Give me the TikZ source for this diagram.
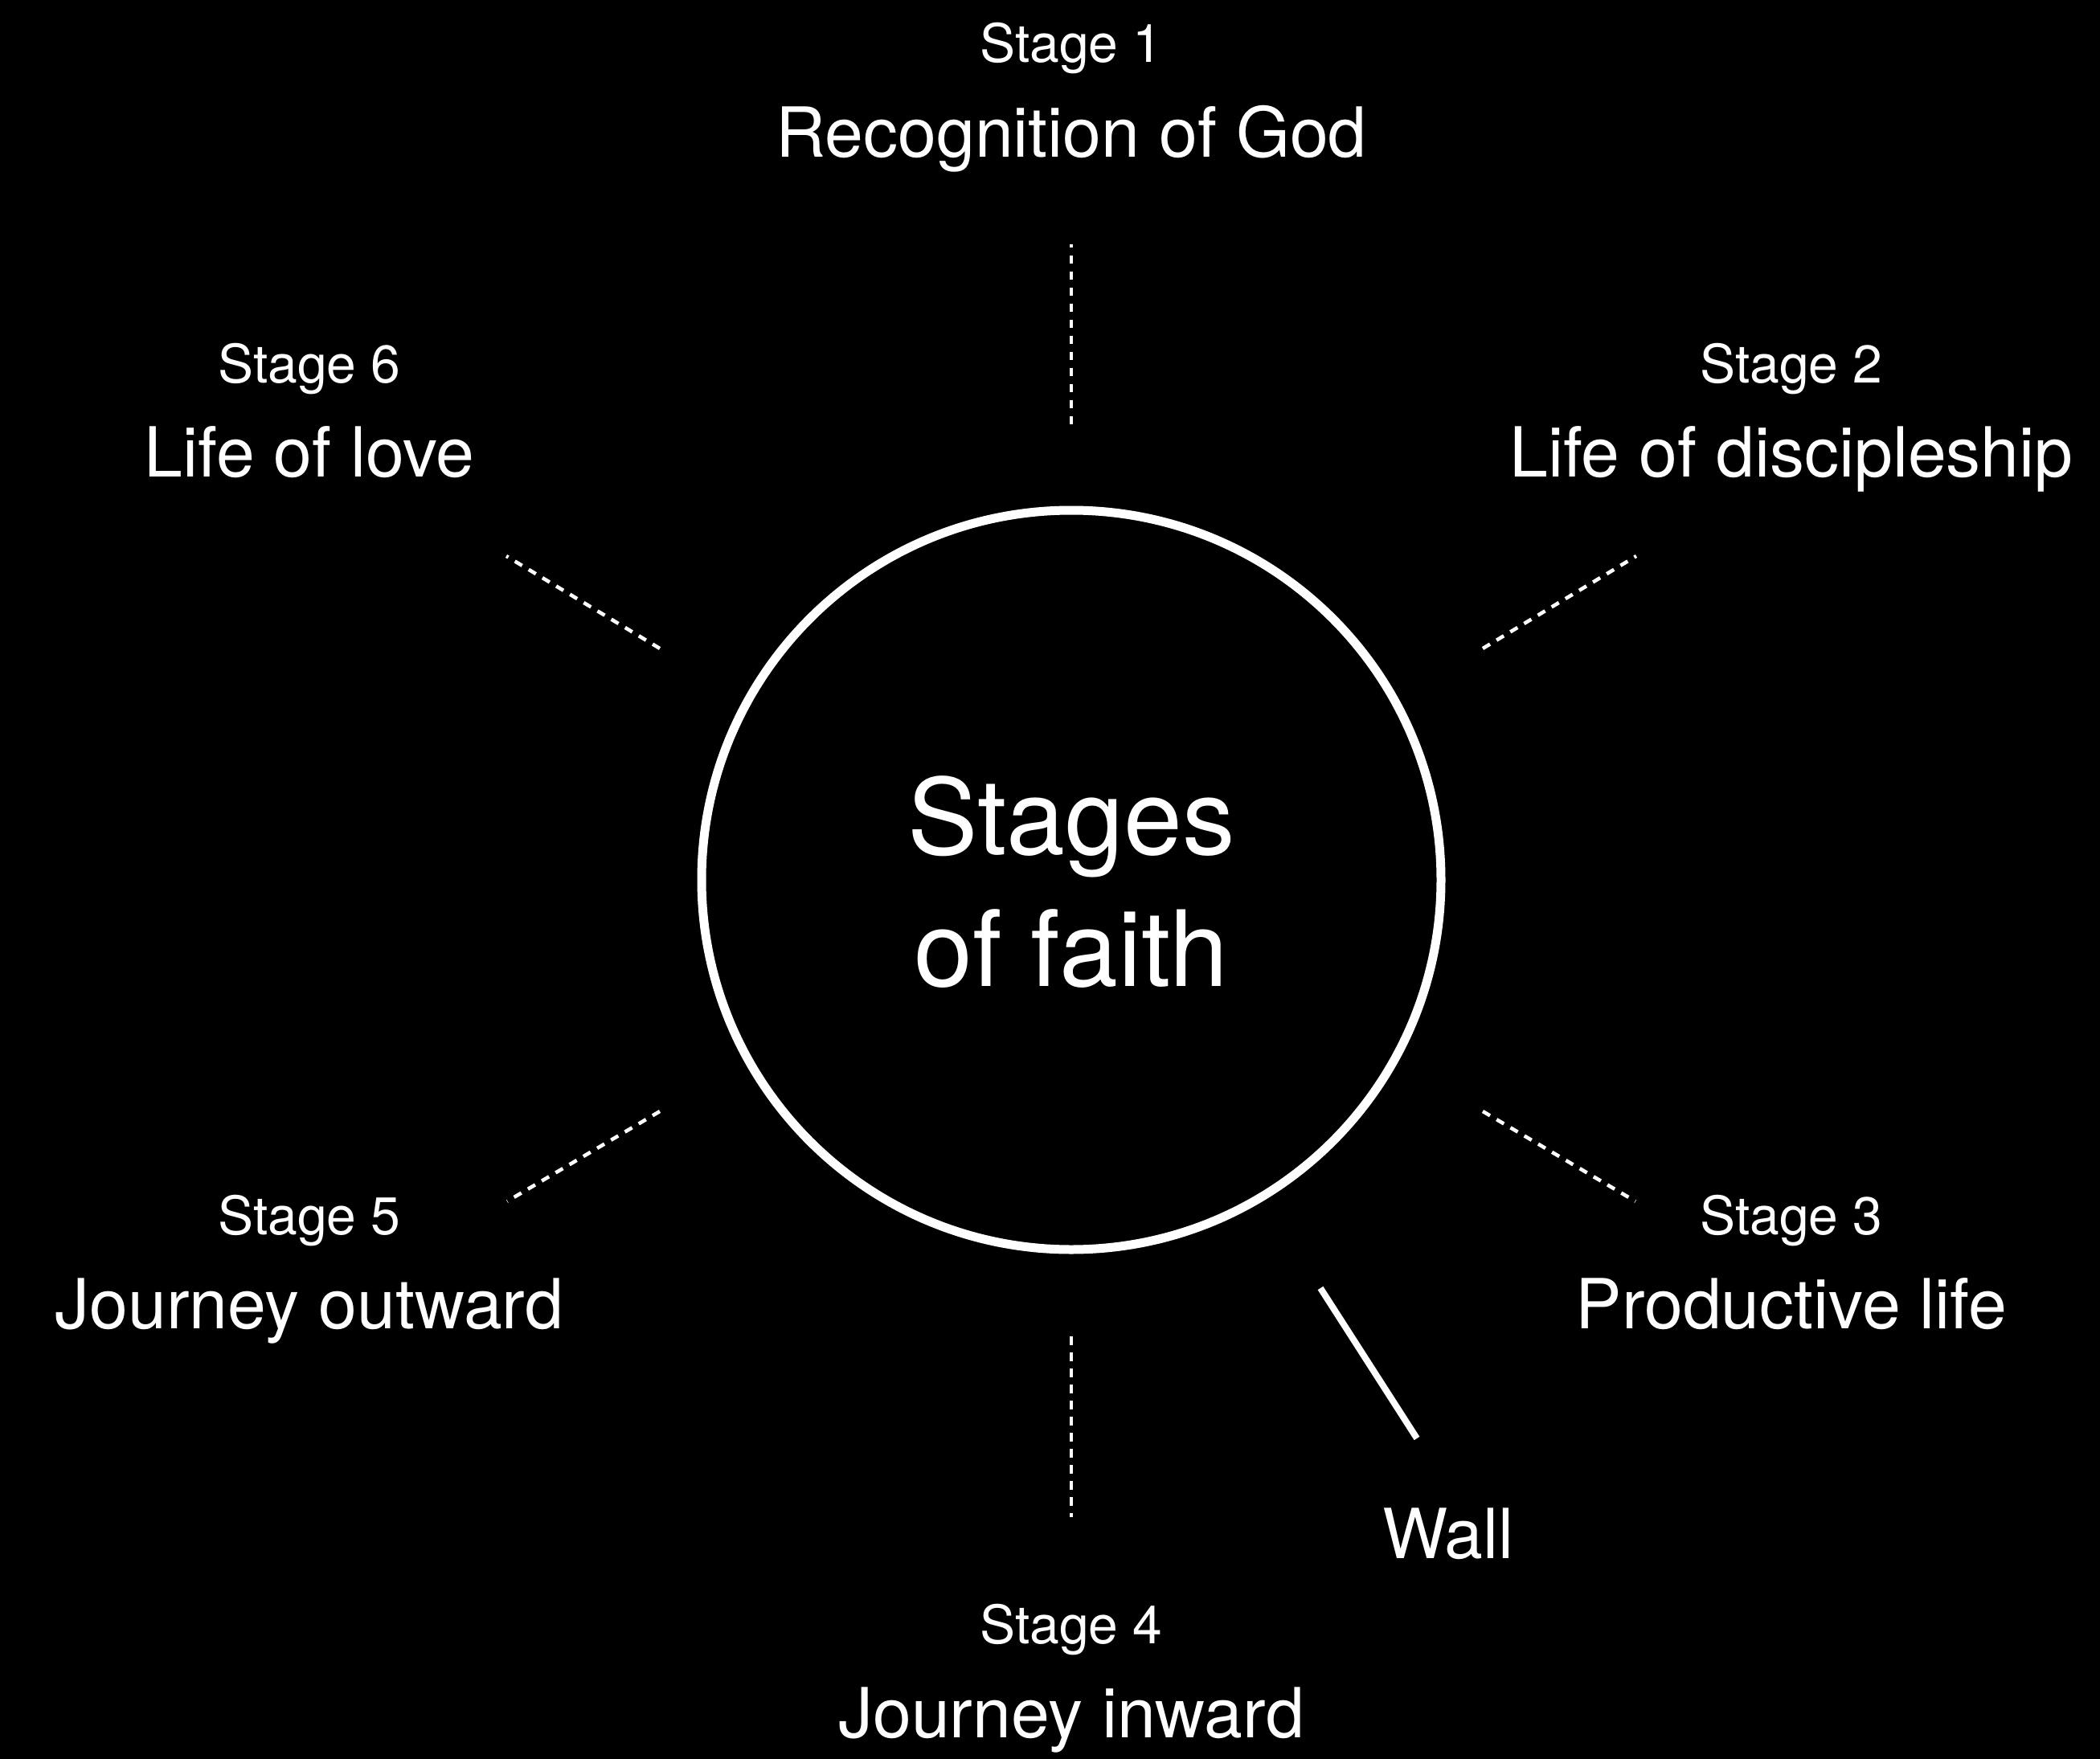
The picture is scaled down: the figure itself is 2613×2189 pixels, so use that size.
\documentclass[tikz,border=0pt]{standalone}
\usepackage{fontspec}
\setmainfont{TeX Gyre Heros}
\begin{document}
\begin{tikzpicture}[x=1pt,y=-1pt,
  stagenum/.style={text=white,inner sep=0pt,anchor=base,font=\fontsize{66}{66}\selectfont},
  stagename/.style={text=white,inner sep=0pt,anchor=base,font=\fontsize{86}{86}\selectfont},
  titletext/.style={text=white,inner sep=0pt,anchor=base,font=\fontsize{131}{131}\selectfont},
  hubring/.style={circle,draw=white,line width=11pt,minimum size=920pt,inner sep=0pt,outer sep=0pt},
  spoke/.style={draw=white,line width=4.5pt,dash pattern=on 10.5pt off 9.5pt,line cap=butt},
  wallline/.style={draw=white,line width=8pt,line cap=butt}]

% page and background
\fill[black] (0,0) rectangle (2613,2189);
\useasboundingbox (0,0) rectangle (2613,2189);

% central ring with title
\node[hubring] (hub) at (1333,1095) {};
\node[titletext] (title1) at (1333,1063) {Stages};
\node[titletext] (title2) at (1333,1227) {of faith};

% stage labels
\node[stagenum]  (n1) at (1333,78)  {Stage 1};
\node[stagename] (t1) at (1333,195) {Recognition of God};

\node[stagenum]  (n2) at (2229,476) {Stage 2};
\node[stagename] (t2) at (2229,593) {Life of discipleship};

\node[stagenum]  (n3) at (2229,1536) {Stage 3};
\node[stagename] (t3) at (2229,1653) {Productive life};

\node[stagenum]  (n4) at (1333,2045) {Stage 4};
\node[stagename] (t4) at (1333,2162) {Journey inward};

\node[stagenum]  (n5) at (385,1536) {Stage 5};
\node[stagename] (t5) at (385,1653) {Journey outward};

\node[stagenum]  (n6) at (385,476) {Stage 6};
\node[stagename] (t6) at (385,593) {Life of love};

\node[stagename] (wall) at (1802,1939) {Wall};

% dotted spokes between the ring and each stage
\coordinate (s1in) at (1333,528);  \coordinate (s1out) at (1333,304);
\coordinate (s2in) at (1845,807);  \coordinate (s2out) at (2036,692);
\coordinate (s3in) at (1845,1383); \coordinate (s3out) at (2035,1495);
\coordinate (s4in) at (1333,1663); \coordinate (s4out) at (1333,1888);
\coordinate (s5in) at (821,1383);  \coordinate (s5out) at (631,1495);
\coordinate (s6in) at (821,807);   \coordinate (s6out) at (630,692);

\draw[spoke] (s1in) -- (s1out);
\draw[spoke] (s2in) -- (s2out);
\draw[spoke] (s3in) -- (s3out);
\draw[spoke] (s4in) -- (s4out);
\draw[spoke] (s5in) -- (s5out);
\draw[spoke] (s6in) -- (s6out);

% solid marker for the wall
\coordinate (win) at (1643,1603);
\coordinate (wout) at (1763,1790);
\draw[wallline] (win) -- (wout);
\end{tikzpicture}
\end{document}
